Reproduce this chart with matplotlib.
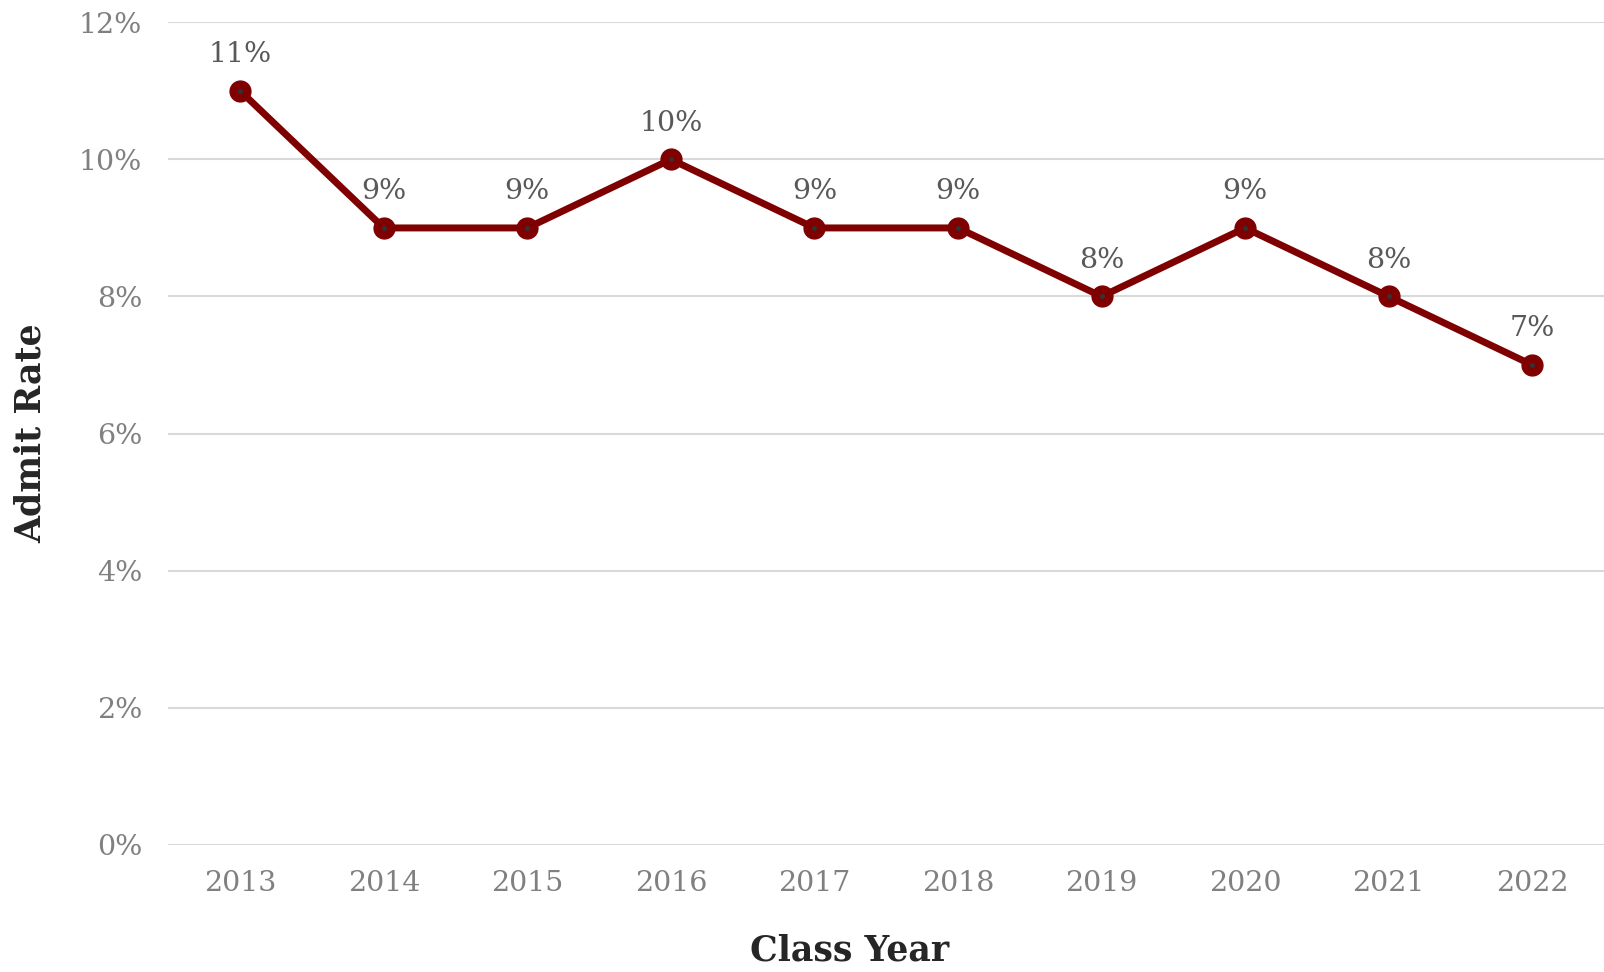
import matplotlib
matplotlib.use("Agg")
from matplotlib import pyplot as plt
from matplotlib.ticker import FuncFormatter

years = ["2013", "2014", "2015", "2016", "2017", "2018", "2019", "2020", "2021", "2022"]
admit_rate = [11, 9, 9, 10, 9, 9, 8, 9, 8, 7]
y_ticks = [0, 2, 4, 6, 8, 10, 12]

plt.rcParams['font.family'] = ['DejaVu Serif']

fig = plt.figure(figsize=(16.04, 9.72), dpi=100)
ax = fig.add_axes([0.105, 0.131, 0.895, 0.846])

x = list(range(len(years)))
ax.plot(x, admit_rate, color='#7f0000', linewidth=5, marker='o',
        markersize=15, markerfacecolor='#7f0000', markeredgecolor='#7f0000',
        zorder=3)
ax.plot(x, admit_rate, linestyle='none', marker='o', markersize=2.5,
        color='#333333', zorder=4)

for xi, v in zip(x, admit_rate):
    ax.annotate(f"{v}%", (xi, v), xytext=(0, 26), textcoords='offset points',
                ha='center', va='center', fontsize=20.5, color='#595959')

ax.set_xlim(-0.5, 9.5)
ax.set_ylim(0, 12)
ax.set_xticks(x)
ax.set_xticklabels(years)
ax.set_yticks(y_ticks)
ax.yaxis.set_major_formatter(FuncFormatter(lambda v, _: f"{v:.0f}%"))
ax.tick_params(axis='both', length=0, labelsize=20.5, labelcolor='#808080')
ax.tick_params(axis='x', pad=18)
ax.tick_params(axis='y', pad=19)

ax.grid(axis='y', color='#d9d9d9', linewidth=1.5)
ax.set_axisbelow(True)
for s in ax.spines.values():
    s.set_visible(False)

ax.set_xlabel('Class Year', fontsize=25, fontweight='bold', color='#262626',
              va='top')
ax.set_ylabel('Admit Rate', fontsize=25, fontweight='bold', color='#262626',
              va='center')
ax.xaxis.set_label_coords((850 - 169) / 1435, -(934 - 845) / 822.5)
ax.yaxis.set_label_coords(-(169 - 31) / 1435, 0.5)

fig.savefig('out.png', dpi=100)
